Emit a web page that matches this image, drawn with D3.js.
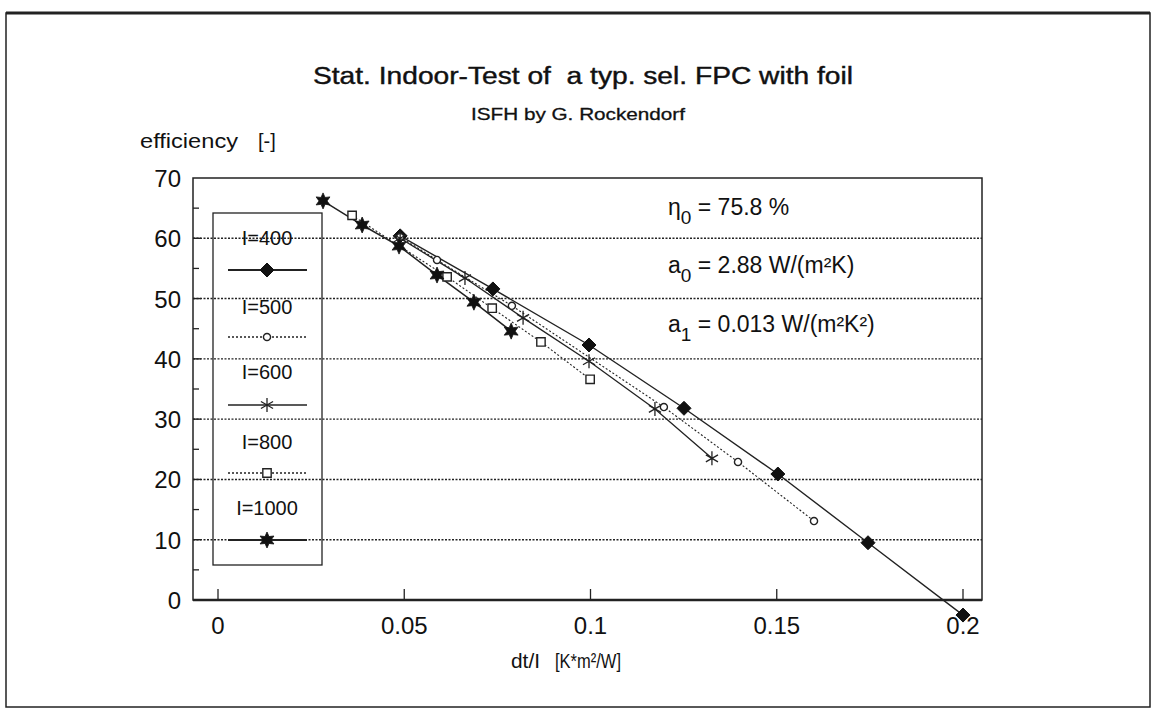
<!DOCTYPE html>
<html><head><meta charset="utf-8">
<script src="https://cdn.jsdelivr.net/npm/d3@7"></script>
<style>
html,body{margin:0;padding:0;background:#fff;}
text{font-family:"Liberation Sans",Arial,sans-serif;fill:#111;}
</style></head>
<body><svg id="c" width="1156" height="714"></svg>
<script>
// ---- data ----
const seriesNames = ["I=400","I=500","I=600","I=800","I=1000"];
const x400  = [0.0489,0.0738,0.0996,0.1251,0.1503,0.1745,0.2000];
const y400  = [60.4,51.6,42.3,31.8,20.9,9.5,-2.5];
const x500  = [0.0489,0.0588,0.0789,0.1197,0.1396,0.1600];
const y500  = [60.2,56.4,48.8,32.0,22.9,13.1];
const x600  = [0.0489,0.0663,0.0819,0.0996,0.1173,0.1326];
const y600  = [60.0,53.4,46.8,39.6,31.7,23.5];
const x800  = [0.0360,0.0615,0.0736,0.0867,0.0999];
const y800  = [63.8,53.6,48.4,42.8,36.6];
const x1000 = [0.0282,0.0387,0.0486,0.0588,0.0687,0.0787];
const y1000 = [66.2,62.2,58.7,53.9,49.4,44.6];
const xTicks = [0,0.05,0.1,0.15,0.2];
const xTickLabels = ["0","0.05","0.1","0.15","0.2"];
const yTicks = [0,10,20,30,40,50,60,70];
const yMinor = [5,15,25,35,45,55,65];
const titleText = "Stat. Indoor-Test of  a typ. sel. FPC with foil";
const subtitleText = "ISFH by G. Rockendorf";

// ---- layout ----
const svg = d3.select("#c");
const frame = {l:193, r:982, t:178, b:600};
const x = d3.scaleLinear().domain([0,0.2]).range([218,963]);
const y = d3.scaleLinear().domain([0,70]).range([600,178]);

// outer page frame
svg.append("rect").attr("x",6).attr("y",13).attr("width",1144).attr("height",694)
  .attr("fill","none").attr("stroke","#222").attr("stroke-width",1.5);
svg.append("line").attr("x1",6).attr("x2",1150).attr("y1",13).attr("y2",13)
  .attr("stroke","#222").attr("stroke-width",3);

// titles
svg.append("text").attr("x",583).attr("y",84).attr("text-anchor","middle")
  .attr("font-size",23).attr("stroke","#111").attr("stroke-width",0.4)
  .attr("textLength",540).attr("lengthAdjust","spacingAndGlyphs").style("white-space","pre").text(titleText);
svg.append("text").attr("x",578).attr("y",120).attr("text-anchor","middle")
  .attr("font-size",17).attr("stroke","#111").attr("stroke-width",0.3)
  .attr("textLength",214).attr("lengthAdjust","spacingAndGlyphs").text(subtitleText);
svg.append("text").attr("x",140).attr("y",148).attr("font-size",20)
  .attr("textLength",98).attr("lengthAdjust","spacingAndGlyphs").text("efficiency");
svg.append("text").attr("x",258).attr("y",148).attr("font-size",20).text("[-]");

// gridlines
const g = svg.append("g");
g.selectAll("line.grid").data(yTicks.filter(d=>d>0&&d<70)).join("line")
  .attr("x1",frame.l).attr("x2",frame.r).attr("y1",d=>y(d)).attr("y2",d=>y(d))
  .attr("stroke","#222").attr("stroke-width",1.4).attr("stroke-dasharray","2,1.5");
g.selectAll("line.minor").data(yMinor).join("line")
  .attr("x1",frame.l).attr("x2",frame.l+6).attr("y1",d=>y(d)).attr("y2",d=>y(d))
  .attr("stroke","#222").attr("stroke-width",1.3);
g.selectAll("line.maj").data(yTicks.filter(d=>d>0&&d<70)).join("line")
  .attr("x1",frame.l).attr("x2",frame.l+8).attr("y1",d=>y(d)).attr("y2",d=>y(d))
  .attr("stroke","#222").attr("stroke-width",1.4);
svg.append("rect").attr("x",frame.l).attr("y",frame.t).attr("width",frame.r-frame.l).attr("height",frame.b-frame.t)
  .attr("fill","none").attr("stroke","#222").attr("stroke-width",1.5);
svg.append("line").attr("x1",frame.l).attr("x2",frame.r).attr("y1",frame.b).attr("y2",frame.b)
  .attr("stroke","#222").attr("stroke-width",2.5);
g.selectAll("line.xt").data(xTicks).join("line")
  .attr("x1",d=>x(d)).attr("x2",d=>x(d)).attr("y1",frame.b).attr("y2",frame.b-11)
  .attr("stroke","#222").attr("stroke-width",1.3);
svg.selectAll("text.xl").data(xTicks).join("text")
  .attr("x",d=>x(d)).attr("y",634).attr("text-anchor","middle").attr("font-size",24)
  .text((d,i)=>xTickLabels[i]);
svg.selectAll("text.yl").data(yTicks).join("text")
  .attr("x",181).attr("y",d=>y(d)+9).attr("text-anchor","end").attr("font-size",24)
  .text(d=>d);
svg.append("text").attr("x",511).attr("y",668).attr("font-size",20)
  .attr("textLength",29).attr("lengthAdjust","spacingAndGlyphs").text("dt/I");
svg.append("text").attr("x",555).attr("y",668).attr("font-size",20)
  .attr("textLength",66).attr("lengthAdjust","spacingAndGlyphs").text("[K*m²/W]");

// legend box
const lg = svg.append("g");
lg.append("rect").attr("x",213).attr("y",213).attr("width",109).attr("height",352)
  .attr("fill","none").attr("stroke","#222").attr("stroke-width",1.3);

// symbols
const star6 = (r)=>{ let p=[]; for(let i=0;i<12;i++){const a=Math.PI/6*i - Math.PI/2; const rr = i%2? r*0.5 : r; p.push([rr*Math.cos(a), rr*Math.sin(a)]);} return "M"+p.map(q=>q.join(",")).join("L")+"Z"; };
const asterisk = (r)=>{ let s=""; for(let i=0;i<3;i++){const a=Math.PI/3*i+Math.PI/2; s+=`M${r*Math.cos(a)},${r*Math.sin(a)}L${-r*Math.cos(a)},${-r*Math.sin(a)}`;} return s; };
const diamond = (r)=>`M0,${-r}L${r},0L0,${r}L${-r},0Z`;
const styles = [
  {xs:x400, ys:y400, dash:null, w:1.4, sym:{path:diamond(7), fill:"#111", stroke:"#111", sw:1}},
  {xs:x500, ys:y500, dash:"2,2", w:1.1, sym:{path:d3.symbol(d3.symbolCircle,40)(), fill:"#fff", stroke:"#222", sw:1.4}},
  {xs:x600, ys:y600, dash:null, w:1.3, sym:{path:asterisk(7), fill:"none", stroke:"#222", sw:1.3}},
  {xs:x800, ys:y800, dash:"2,2", w:1.1, sym:{path:d3.symbol(d3.symbolSquare,70)(), fill:"#fff", stroke:"#222", sw:1.4}},
  {xs:x1000, ys:y1000, dash:null, w:1.5, sym:{path:star6(8), fill:"#111", stroke:"#111", sw:0.8}}
];
const line = d3.line().x(d=>x(d[0])).y(d=>y(d[1]));
const plot = svg.append("g");
styles.forEach(s=>{
  const pts = s.xs.map((v,i)=>[v,s.ys[i]]);
  plot.append("path").attr("d",line(pts)).attr("fill","none").attr("stroke","#222")
    .attr("stroke-width",s.w).attr("stroke-dasharray",s.dash);
});
styles.forEach(s=>{
  const pts = s.xs.map((v,i)=>[v,s.ys[i]]);
  plot.selectAll(null).data(pts).join("path")
    .attr("transform",d=>`translate(${x(d[0])},${y(d[1])})`)
    .attr("d",s.sym.path).attr("fill",s.sym.fill).attr("stroke",s.sym.stroke).attr("stroke-width",s.sym.sw);
});

// legend entries
const legTextY = [245,314,379,449,515];
const legSymY = [270,337,405,473,540];
seriesNames.forEach((n,i)=>{
  lg.append("text").attr("x",267).attr("y",legTextY[i]).attr("text-anchor","middle").attr("font-size",20).text(n);
  const s = styles[i];
  lg.append("line").attr("x1",228).attr("x2",307).attr("y1",legSymY[i]).attr("y2",legSymY[i])
    .attr("stroke","#222").attr("stroke-width",i===4?2.2:s.w+0.4).attr("stroke-dasharray",s.dash);
  lg.append("path").attr("transform",`translate(267,${legSymY[i]})`).attr("d",s.sym.path)
    .attr("fill",s.sym.fill).attr("stroke",s.sym.stroke).attr("stroke-width",s.sym.sw);
});

// coefficients
const ann = svg.append("g").attr("font-size",23);
const t1 = ann.append("text").attr("x",668).attr("y",215);
t1.append("tspan").text("η");
t1.append("tspan").attr("dy",9).attr("font-size",19).text("0");
t1.append("tspan").attr("dy",-9).text(" = 75.8 %");
const t2 = ann.append("text").attr("x",668).attr("y",273);
t2.append("tspan").text("a");
t2.append("tspan").attr("dy",9).attr("font-size",19).text("0");
t2.append("tspan").attr("dy",-9).text(" = 2.88 W/(m²K)");
const t3 = ann.append("text").attr("x",668).attr("y",332);
t3.append("tspan").text("a");
t3.append("tspan").attr("dy",9).attr("font-size",19).text("1");
t3.append("tspan").attr("dy",-9).text(" = 0.013 W/(m²K²)");
</script></body></html>
